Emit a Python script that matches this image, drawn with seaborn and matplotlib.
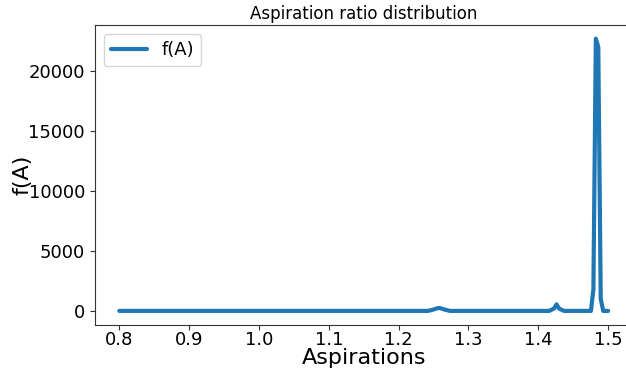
import matplotlib
matplotlib.use("Agg")
import matplotlib.pyplot as plt
import seaborn as sns
import pandas as pd

# Aspiration values (x) and f(A) values (y)
aspirations = [0.800, 1.2420, 1.2490, 1.2560, 1.2595, 1.2665, 1.2735,
               1.4156, 1.4226, 1.4261, 1.4296, 1.4367,
               1.4754, 1.4789, 1.4824, 1.4859, 1.4894, 1.4930, 1.5000]
f_values = [0, 0, 100, 230, 230, 100, 0,
            0, 200, 550, 200, 0,
            0, 1800, 22700, 22000, 1000, 0, 0]

xticks = [0.8, 0.9, 1.0, 1.1, 1.2, 1.3, 1.4, 1.5]
yticks = [0, 5000, 10000, 15000, 20000]

df = pd.DataFrame({"Aspirations": aspirations, "f(A)": f_values})

sns.set_style("white")
plt.rcParams['font.family'] = ['DejaVu Sans']
plt.rcParams.update({"text.color": "black", "axes.labelcolor": "black",
                     "xtick.color": "black", "ytick.color": "black"})

fig = plt.figure(figsize=(6.26, 3.71), dpi=100)
ax = fig.add_axes([0.1515, 0.1253, 0.859, 0.8073])
sns.lineplot(data=df, x="Aspirations", y="f(A)", ax=ax, color="#1f77b4",
             linewidth=3, label="f(A)", sort=False)
ax.set_xticks(xticks)
ax.set_yticks(yticks)
ax.tick_params(axis="both", labelsize=13, length=3.5, width=0.8, direction="out",
               bottom=True, left=True, color="#333333", pad=3.5)
ax.tick_params(axis="x", pad=1.5)
ax.set_xlabel("Aspirations", fontsize=16, labelpad=-1)
ax.set_ylabel("f(A)", fontsize=16, labelpad=-3)
ax.set_title("Aspiration ratio distribution", fontsize=12, pad=4)
for s in ax.spines.values():
    s.set_color("#333333")
    s.set_linewidth(0.8)
ax.spines["right"].set_visible(False)
ax.legend(loc="upper left", fontsize=13)
fig.savefig("out.png", dpi=100)
